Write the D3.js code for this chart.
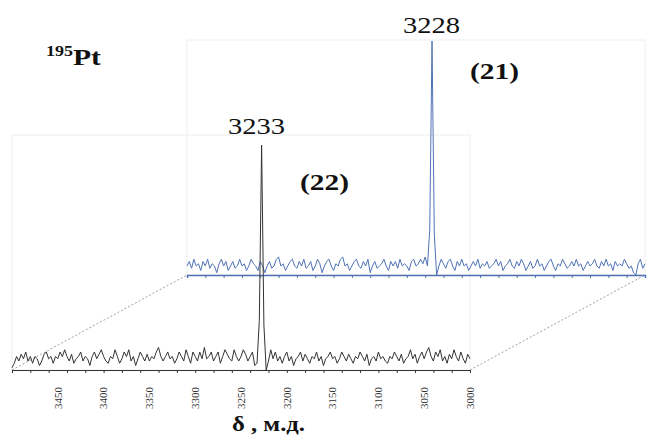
<!DOCTYPE html>
<html>
<head>
<meta charset="utf-8">
<script src="https://cdn.jsdelivr.net/npm/d3@7"></script>
<style>
  body { margin: 0; background: #fff; }
</style>
</head>
<body>
<div id="chart"></div>
<script>
// chemical shift grid: 3500 -> 3000 ppm, step 2.5
var shiftStart = 3500, shiftStep = -2.5;

// complex (22), front trace, black
var black22 = [
  1,3,6,4,7,5,8,4,6,3,
  6,5,2,4,7,8,5,6,3,6,
  5,8,6,9,6,4,7,3,5,6,
  8,4,6,5,2,6,8,5,7,9,
  6,4,3,6,5,9,6,3,5,8,
  6,9,4,6,2,5,8,6,4,7,
  4,6,5,8,10,6,4,6,8,5,
  6,3,5,8,6,4,9,6,3,8,
  6,4,8,5,10,5,6,8,4,6,
  8,3,6,9,7,5,4,9,6,4,
  6,9,7,4,6,8,2,3,22,100,
  20,0,4,9,5,8,4,6,3,6,
  8,4,6,2,5,6,8,4,7,5,
  3,6,5,8,4,6,2,5,6,8,
  5,6,3,5,8,6,4,7,5,3,
  6,5,8,6,4,7,2,5,6,4,
  8,5,6,4,3,6,5,8,6,4,
  7,3,5,6,9,5,7,3,6,8,
  5,8,10,6,4,8,6,9,4,6,
  3,7,5,9,6,4,8,5,3,7,
  5
];

// complex (21), back trace, blue
var blue21 = [
  4,6,3,7,4,5,2,6,4,7,
  3,5,4,1,5,7,4,6,2,4,
  6,3,4,7,4,5,2,4,7,5,
  4,2,6,4,1,4,6,3,4,7,
  8,4,5,2,4,6,7,4,3,6,
  4,7,3,4,6,2,4,7,5,1,
  4,6,7,4,2,5,4,7,8,4,
  5,2,4,6,7,4,3,6,4,7,
  1,4,6,3,4,5,7,4,2,6,
  4,6,3,7,4,5,4,2,6,7,
  4,5,7,5,8,4,20,104,18,0,
  4,7,5,3,6,7,4,2,6,4,
  7,4,5,2,4,6,4,7,3,5,
  4,6,3,4,5,7,4,6,2,4,
  5,7,4,3,6,4,7,5,2,4,
  6,3,4,7,4,5,2,4,6,7,
  4,2,5,4,7,5,3,4,6,4,
  7,4,5,2,4,6,4,5,7,4,
  3,6,4,7,4,5,2,6,4,5,
  4,7,5,3,4,1,0,5,7,3,
  5
];

var tickValues = [3450, 3400, 3350, 3300, 3250, 3200, 3150, 3100, 3050, 3000];
var peakLabels = ["3233", "3228"];
var seriesLabels = ["(22)", "(21)"];

var width = 647, height = 435;
var serif = "'Liberation Serif'";

var svg = d3.select("#chart").append("svg")
  .attr("width", width)
  .attr("height", height);

// front panel and back panel (depth offset)
var front = {x0: 12, x1: 470, yBase: 370, yTop: 135};
var back = {x0: 187, x1: 645, yBase: 275, yTop: 40};

var xFront = d3.scaleLinear().domain([3500, 3000]).range([front.x0, front.x1]);
var xBack = d3.scaleLinear().domain([3500, 3000]).range([back.x0, back.x1]);
var yFront = d3.scaleLinear().domain([0, 100]).range([front.yBase, front.yBase - 225]);
var yBack = d3.scaleLinear().domain([0, 100]).range([back.yBase, back.yBase - 225]);

function toPoints(arr) {
  return arr.map(function(v, i) { return {d: shiftStart + i * shiftStep, v: v}; });
}

// faint panel frames
[front, back].forEach(function(p) {
  svg.append("rect")
    .attr("x", p.x0).attr("y", p.yTop)
    .attr("width", p.x1 - p.x0).attr("height", p.yBase - p.yTop)
    .attr("fill", "none")
    .attr("stroke", "#eeeeee")
    .attr("stroke-width", 1);
});

// dashed depth lines
svg.append("line")
  .attr("x1", front.x0).attr("y1", front.yBase)
  .attr("x2", back.x0).attr("y2", back.yBase)
  .attr("stroke", "#888").attr("stroke-width", 0.8).attr("stroke-dasharray", "2,2");
svg.append("line")
  .attr("x1", front.x1).attr("y1", front.yBase)
  .attr("x2", back.x1).attr("y2", back.yBase)
  .attr("stroke", "#888").attr("stroke-width", 0.8).attr("stroke-dasharray", "2,2");

// back trace (21)
var blueColor = "#4f72b6";
svg.append("g")
  .attr("transform", "translate(0," + back.yBase + ")")
  .call(d3.axisBottom(xBack).ticks(20).tickSize(3).tickFormat(""))
  .call(function(g) {
    g.select(".domain").attr("stroke", blueColor).attr("stroke-width", 1.5);
    g.selectAll(".tick line").attr("stroke", blueColor);
  });

svg.append("path")
  .datum(toPoints(blue21))
  .attr("fill", "none")
  .attr("stroke", blueColor)
  .attr("stroke-width", 1)
  .attr("d", d3.line().x(function(d) { return xBack(d.d); }).y(function(d) { return yBack(d.v); }));

// front trace (22)
svg.append("g")
  .attr("transform", "translate(0," + front.yBase + ")")
  .call(d3.axisBottom(xFront).ticks(20).tickSize(3).tickFormat(""))
  .call(function(g) {
    g.select(".domain").attr("stroke", "#333").attr("stroke-width", 1);
    g.selectAll(".tick line").attr("stroke", "#333");
  });

svg.append("path")
  .datum(toPoints(black22))
  .attr("fill", "none")
  .attr("stroke", "#333")
  .attr("stroke-width", 1)
  .attr("d", d3.line().x(function(d) { return xFront(d.d); }).y(function(d) { return yFront(d.v); }));

// rotated tick labels
svg.selectAll(".tlab")
  .data(tickValues)
  .enter().append("text")
  .attr("class", "tlab")
  .attr("transform", function(d) { return "translate(" + xFront(d) + ",387) rotate(-90)"; })
  .attr("dy", "0.35em")
  .attr("text-anchor", "end")
  .attr("font-size", 11)
  .attr("fill", "#333")
  .style("font-family", serif)
  .text(function(d) { return d; });

// helper for the slightly stretched labels of the original
function label(x, y, str, size, bold, len, anchor) {
  return svg.append("text")
    .attr("x", x).attr("y", y)
    .attr("text-anchor", anchor || "start")
    .attr("font-size", size)
    .attr("font-weight", bold ? "bold" : "normal")
    .attr("fill", "#111")
    .attr("textLength", len)
    .attr("lengthAdjust", "spacingAndGlyphs")
    .style("font-family", serif)
    .text(str);
}

// axis title
label(232, 431, "δ , м.д.", 21, true, 73);

// nucleus label
var nuc = svg.append("text").attr("x", 46).attr("y", 65)
  .attr("font-weight", "bold").attr("fill", "#111")
  .style("font-family", serif);
nuc.append("tspan").attr("font-size", 15).attr("dy", -9)
  .attr("textLength", 27).attr("lengthAdjust", "spacingAndGlyphs").text("195");
nuc.append("tspan").attr("font-size", 23).attr("dy", 9)
  .attr("textLength", 28).attr("lengthAdjust", "spacingAndGlyphs").text("Pt");

// peak labels
label(228, 134, peakLabels[0], 24, false, 57);
label(403, 33, peakLabels[1], 24, false, 57);

// series labels
label(300, 190, seriesLabels[0], 23, true, 49);
label(470, 79, seriesLabels[1], 23, true, 49);
</script>
</body>
</html>
